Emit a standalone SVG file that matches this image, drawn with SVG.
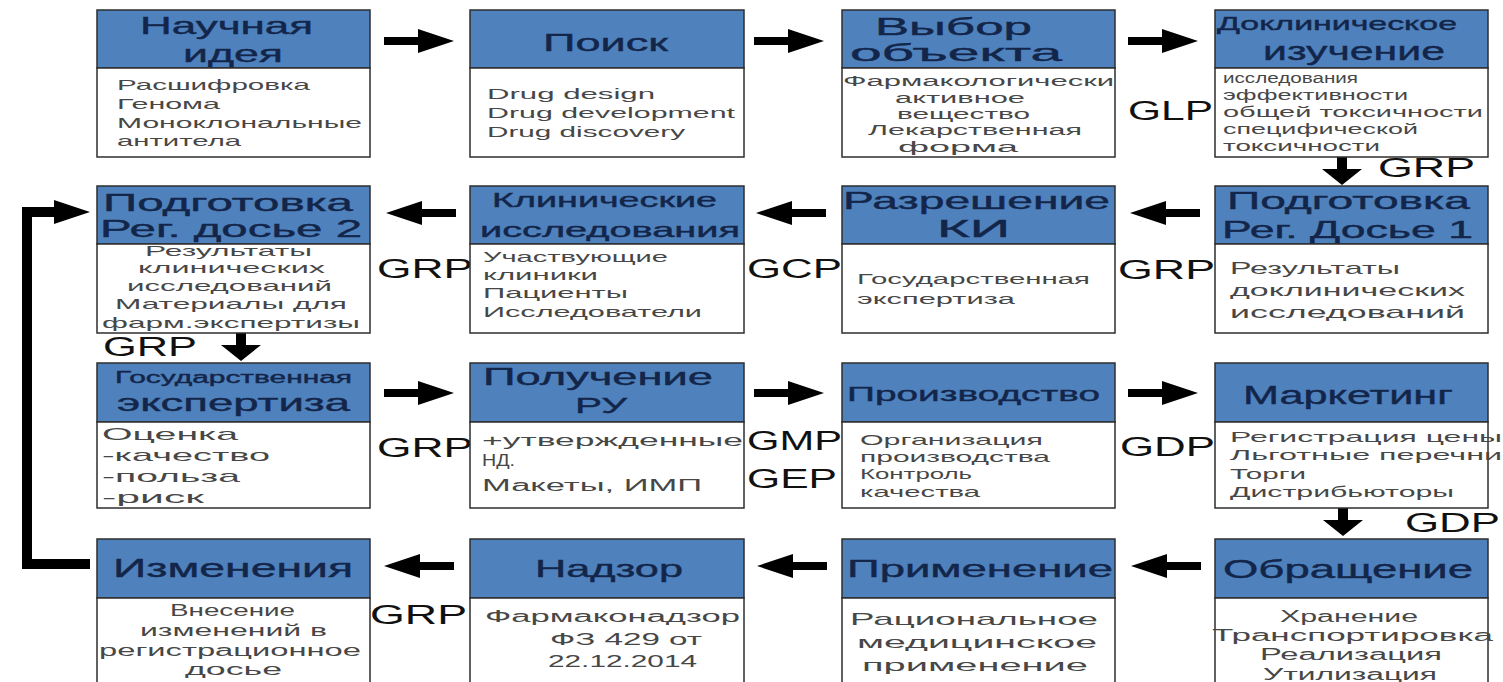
<svg xmlns="http://www.w3.org/2000/svg" xmlns:xlink="http://www.w3.org/1999/xlink" width="1503" height="682" viewBox="0 0 1503 682">
<style>
.hdr{fill:#4f81bd;stroke:#2e2e2e;stroke-width:1.5}
.bdy{fill:#ffffff;stroke:#2e2e2e;stroke-width:1.5}
.ht{font-family:"Liberation Sans",Arial,sans-serif;fill:#13264a;stroke:#13264a;stroke-width:0.4}
.bt{font-family:"Liberation Sans",Arial,sans-serif;fill:#474747}
.lb{font-family:"Liberation Sans",Arial,sans-serif;font-size:27px;fill:#111111}
.ar{fill:#000000}
</style>
<defs>
<path id="arR" d="M0,-4 H34 V-12 L70,0 L34,12 V4 H0 Z"/>
<path id="arL" d="M70,-4 H36 V-12 L0,0 L36,12 V4 H70 Z"/>
<path id="arD" d="M-5,0 V12 H-20 L0,28 L20,12 H5 V0 Z"/>
</defs>
<rect width="1503" height="682" fill="#ffffff"/>

<g id="connectors" class="ar">
<use xlink:href="#arR" x="384" y="41"/>
<use xlink:href="#arR" x="754" y="41"/>
<use xlink:href="#arR" x="1128" y="41"/>
<use xlink:href="#arD" x="1342" y="157"/>
<use xlink:href="#arL" x="386" y="213"/>
<use xlink:href="#arL" x="756" y="213"/>
<use xlink:href="#arL" x="1130" y="213"/>
<use xlink:href="#arD" x="241" y="333"/>
<use xlink:href="#arR" x="384" y="393"/>
<use xlink:href="#arR" x="754" y="393"/>
<use xlink:href="#arR" x="1128" y="393"/>
<use xlink:href="#arD" x="1343" y="508"/>
<use xlink:href="#arL" x="384" y="566"/>
<use xlink:href="#arL" x="757" y="566"/>
<use xlink:href="#arL" x="1131" y="566"/>
<path d="M90,564 H27 V212 H58" fill="none" stroke="#000" stroke-width="10"/>
<path d="M54,200 L90,212 L54,224 Z"/>
<text class="lb" x="1128" y="120" textLength="85" lengthAdjust="spacingAndGlyphs">GLP</text>
<text class="lb" x="1378" y="177" textLength="97" lengthAdjust="spacingAndGlyphs">GRP</text>
<text class="lb" x="377" y="278" textLength="96" lengthAdjust="spacingAndGlyphs">GRP</text>
<text class="lb" x="747" y="278" textLength="95" lengthAdjust="spacingAndGlyphs">GCP</text>
<text class="lb" x="1118" y="279" textLength="97" lengthAdjust="spacingAndGlyphs">GRP</text>
<text class="lb" x="103" y="356" textLength="94" lengthAdjust="spacingAndGlyphs">GRP</text>
<text class="lb" x="377" y="457" textLength="96" lengthAdjust="spacingAndGlyphs">GRP</text>
<text class="lb" x="747" y="450" textLength="95" lengthAdjust="spacingAndGlyphs">GMP</text>
<text class="lb" x="747" y="488" textLength="90" lengthAdjust="spacingAndGlyphs">GEP</text>
<text class="lb" x="1120" y="456" textLength="95" lengthAdjust="spacingAndGlyphs">GDP</text>
<text class="lb" x="1405" y="532" textLength="95" lengthAdjust="spacingAndGlyphs">GDP</text>
<text class="lb" x="370" y="624" textLength="97" lengthAdjust="spacingAndGlyphs">GRP</text>
</g>

<g id="n1">
<rect class="hdr" x="97" y="10" width="273" height="58"/>
<rect class="bdy" x="97" y="68" width="273" height="89"/>
<text class="ht" font-size="24" x="140" y="34" textLength="173" lengthAdjust="spacingAndGlyphs">Научная</text>
<text class="ht" font-size="24" x="183" y="62" textLength="100" lengthAdjust="spacingAndGlyphs">идея</text>
<text class="bt" font-size="15" x="117" y="90" textLength="193" lengthAdjust="spacingAndGlyphs">Расшифровка</text>
<text class="bt" font-size="15" x="117" y="109" textLength="103" lengthAdjust="spacingAndGlyphs">Генома</text>
<text class="bt" font-size="15" x="117" y="128" textLength="245" lengthAdjust="spacingAndGlyphs">Моноклональные</text>
<text class="bt" font-size="15" x="117" y="146" textLength="124" lengthAdjust="spacingAndGlyphs">антитела</text>
</g>

<g id="n2">
<rect class="hdr" x="470" y="10" width="274" height="58"/>
<rect class="bdy" x="470" y="68" width="274" height="89"/>
<text class="ht" font-size="24" x="543" y="51" textLength="125" lengthAdjust="spacingAndGlyphs">Поиск</text>
<text class="bt" font-size="15" x="487" y="99" textLength="168" lengthAdjust="spacingAndGlyphs">Drug design</text>
<text class="bt" font-size="15" x="487" y="118" textLength="248" lengthAdjust="spacingAndGlyphs">Drug development</text>
<text class="bt" font-size="15" x="487" y="137" textLength="198" lengthAdjust="spacingAndGlyphs">Drug discovery</text>
</g>

<g id="n3">
<rect class="hdr" x="842" y="10" width="273" height="58"/>
<rect class="bdy" x="842" y="68" width="273" height="89"/>
<text class="ht" font-size="24" x="875" y="35" textLength="157" lengthAdjust="spacingAndGlyphs">Выбор</text>
<text class="ht" font-size="24" x="850" y="61" textLength="212" lengthAdjust="spacingAndGlyphs">объекта</text>
<text class="bt" font-size="14" x="843" y="86" textLength="271" lengthAdjust="spacingAndGlyphs">Фармакологически</text>
<text class="bt" font-size="14" x="895" y="103" textLength="130" lengthAdjust="spacingAndGlyphs">активное</text>
<text class="bt" font-size="14" x="897" y="119" textLength="133" lengthAdjust="spacingAndGlyphs">вещество</text>
<text class="bt" font-size="14" x="868" y="135" textLength="214" lengthAdjust="spacingAndGlyphs">Лекарственная</text>
<text class="bt" font-size="14" x="898" y="152" textLength="120" lengthAdjust="spacingAndGlyphs">форма</text>
</g>

<g id="n4">
<rect class="hdr" x="1215" y="10" width="273" height="58"/>
<rect class="bdy" x="1215" y="68" width="273" height="89"/>
<text class="ht" font-size="19" x="1217" y="30" textLength="240" lengthAdjust="spacingAndGlyphs">Доклиническое</text>
<text class="ht" font-size="26" x="1263" y="60" textLength="182" lengthAdjust="spacingAndGlyphs">изучение</text>
<text class="bt" font-size="14" x="1223" y="83" textLength="135" lengthAdjust="spacingAndGlyphs">исследования</text>
<text class="bt" font-size="14" x="1223" y="100" textLength="185" lengthAdjust="spacingAndGlyphs">эффективности</text>
<text class="bt" font-size="14" x="1223" y="117" textLength="260" lengthAdjust="spacingAndGlyphs">общей токсичности</text>
<text class="bt" font-size="14" x="1223" y="134" textLength="195" lengthAdjust="spacingAndGlyphs">специфической</text>
<text class="bt" font-size="14" x="1223" y="151" textLength="157" lengthAdjust="spacingAndGlyphs">токсичности</text>
</g>

<g id="n5">
<rect class="hdr" x="97" y="186" width="273" height="58"/>
<rect class="bdy" x="97" y="244" width="273" height="89"/>
<text class="ht" font-size="24" x="103" y="211" textLength="250" lengthAdjust="spacingAndGlyphs">Подготовка</text>
<text class="ht" font-size="24" x="100" y="237" textLength="262" lengthAdjust="spacingAndGlyphs">Рег. досье 2</text>
<text class="bt" font-size="15" x="145" y="256" textLength="167" lengthAdjust="spacingAndGlyphs">Результаты</text>
<text class="bt" font-size="15" x="138" y="273" textLength="187" lengthAdjust="spacingAndGlyphs">клинических</text>
<text class="bt" font-size="15" x="127" y="291" textLength="205" lengthAdjust="spacingAndGlyphs">исследований</text>
<text class="bt" font-size="15" x="115" y="309" textLength="232" lengthAdjust="spacingAndGlyphs">Материалы для</text>
<text class="bt" font-size="15" x="102" y="328" textLength="258" lengthAdjust="spacingAndGlyphs">фарм.экспертизы</text>
</g>

<g id="n6">
<rect class="hdr" x="470" y="186" width="274" height="58"/>
<rect class="bdy" x="470" y="244" width="274" height="89"/>
<text class="ht" font-size="21" x="492" y="207" textLength="225" lengthAdjust="spacingAndGlyphs">Клинические</text>
<text class="ht" font-size="21" x="480" y="237" textLength="260" lengthAdjust="spacingAndGlyphs">исследования</text>
<text class="bt" font-size="15" x="483" y="262" textLength="185" lengthAdjust="spacingAndGlyphs">Участвующие</text>
<text class="bt" font-size="15" x="483" y="280" textLength="115" lengthAdjust="spacingAndGlyphs">клиники</text>
<text class="bt" font-size="15" x="483" y="298" textLength="145" lengthAdjust="spacingAndGlyphs">Пациенты</text>
<text class="bt" font-size="15" x="483" y="317" textLength="219" lengthAdjust="spacingAndGlyphs">Исследователи</text>
</g>

<g id="n7">
<rect class="hdr" x="842" y="186" width="273" height="58"/>
<rect class="bdy" x="842" y="244" width="273" height="89"/>
<text class="ht" font-size="24" x="843" y="209" textLength="267" lengthAdjust="spacingAndGlyphs">Разрешение</text>
<text class="ht" font-size="24" x="937" y="237" textLength="73" lengthAdjust="spacingAndGlyphs">КИ</text>
<text class="bt" font-size="14" x="857" y="284" textLength="233" lengthAdjust="spacingAndGlyphs">Государственная</text>
<text class="bt" font-size="14" x="857" y="304" textLength="158" lengthAdjust="spacingAndGlyphs">экспертиза</text>
</g>

<g id="n8">
<rect class="hdr" x="1215" y="186" width="273" height="58"/>
<rect class="bdy" x="1215" y="244" width="273" height="89"/>
<text class="ht" font-size="24" x="1227" y="209" textLength="243" lengthAdjust="spacingAndGlyphs">Подготовка</text>
<text class="ht" font-size="24" x="1222" y="238" textLength="251" lengthAdjust="spacingAndGlyphs">Рег. Досье 1</text>
<text class="bt" font-size="17" x="1230" y="274" textLength="170" lengthAdjust="spacingAndGlyphs">Результаты</text>
<text class="bt" font-size="17" x="1230" y="296" textLength="235" lengthAdjust="spacingAndGlyphs">доклинических</text>
<text class="bt" font-size="17" x="1230" y="318" textLength="235" lengthAdjust="spacingAndGlyphs">исследований</text>
</g>

<g id="n9">
<rect class="hdr" x="97" y="363" width="273" height="59"/>
<rect class="bdy" x="97" y="422" width="273" height="86"/>
<text class="ht" font-size="16" x="115" y="383" textLength="237" lengthAdjust="spacingAndGlyphs">Государственная</text>
<text class="ht" font-size="24" x="117" y="411" textLength="233" lengthAdjust="spacingAndGlyphs">экспертиза</text>
<text class="bt" font-size="17" x="102" y="440" textLength="136" lengthAdjust="spacingAndGlyphs">Оценка</text>
<text class="bt" font-size="17" x="102" y="461" textLength="168" lengthAdjust="spacingAndGlyphs">-качество</text>
<text class="bt" font-size="17" x="102" y="482" textLength="138" lengthAdjust="spacingAndGlyphs">-польза</text>
<text class="bt" font-size="17" x="102" y="503" textLength="102" lengthAdjust="spacingAndGlyphs">-риск</text>
</g>

<g id="n10">
<rect class="hdr" x="470" y="363" width="274" height="59"/>
<rect class="bdy" x="470" y="422" width="274" height="86"/>
<text class="ht" font-size="23" x="483" y="385" textLength="230" lengthAdjust="spacingAndGlyphs">Получение</text>
<text class="ht" font-size="22" x="575" y="413" textLength="52" lengthAdjust="spacingAndGlyphs">РУ</text>
<text class="bt" font-size="16" x="482" y="446" textLength="261" lengthAdjust="spacingAndGlyphs">+утвержденные</text>
<text class="bt" font-size="16" x="482" y="466" textLength="33" lengthAdjust="spacingAndGlyphs">НД.</text>
<text class="bt" font-size="16" x="482" y="491" textLength="220" lengthAdjust="spacingAndGlyphs">Макеты, ИМП</text>
</g>

<g id="n11">
<rect class="hdr" x="842" y="363" width="273" height="59"/>
<rect class="bdy" x="842" y="422" width="273" height="86"/>
<text class="ht" font-size="21" x="847" y="401" textLength="253" lengthAdjust="spacingAndGlyphs">Производство</text>
<text class="bt" font-size="15" x="860" y="445" textLength="183" lengthAdjust="spacingAndGlyphs">Организация</text>
<text class="bt" font-size="15" x="860" y="462" textLength="190" lengthAdjust="spacingAndGlyphs">производства</text>
<text class="bt" font-size="15" x="860" y="479" textLength="112" lengthAdjust="spacingAndGlyphs">Контроль</text>
<text class="bt" font-size="15" x="860" y="497" textLength="120" lengthAdjust="spacingAndGlyphs">качества</text>
</g>

<g id="n12">
<rect class="hdr" x="1215" y="363" width="273" height="59"/>
<rect class="bdy" x="1215" y="422" width="273" height="86"/>
<text class="ht" font-size="26" x="1243" y="404" textLength="210" lengthAdjust="spacingAndGlyphs">Маркетинг</text>
<text class="bt" font-size="15" x="1230" y="442" textLength="272" lengthAdjust="spacingAndGlyphs">Регистрация цены</text>
<text class="bt" font-size="15" x="1230" y="460" textLength="272" lengthAdjust="spacingAndGlyphs">Льготные перечни</text>
<text class="bt" font-size="15" x="1230" y="479" textLength="76" lengthAdjust="spacingAndGlyphs">Торги</text>
<text class="bt" font-size="15" x="1230" y="497" textLength="224" lengthAdjust="spacingAndGlyphs">Дистрибьюторы</text>
</g>

<g id="n13">
<rect class="hdr" x="97" y="539" width="273" height="59"/>
<rect class="bdy" x="97" y="598" width="273" height="95"/>
<text class="ht" font-size="26" x="113" y="577" textLength="240" lengthAdjust="spacingAndGlyphs">Изменения</text>
<text class="bt" font-size="16" x="170" y="616" textLength="125" lengthAdjust="spacingAndGlyphs">Внесение</text>
<text class="bt" font-size="16" x="140" y="636" textLength="187" lengthAdjust="spacingAndGlyphs">изменений в</text>
<text class="bt" font-size="16" x="99" y="656" textLength="262" lengthAdjust="spacingAndGlyphs">регистрационное</text>
<text class="bt" font-size="16" x="185" y="675" textLength="97" lengthAdjust="spacingAndGlyphs">досье</text>
</g>

<g id="n14">
<rect class="hdr" x="470" y="539" width="274" height="59"/>
<rect class="bdy" x="470" y="598" width="274" height="95"/>
<text class="ht" font-size="24" x="535" y="577" textLength="148" lengthAdjust="spacingAndGlyphs">Надзор</text>
<text class="bt" font-size="16" x="485" y="622" textLength="255" lengthAdjust="spacingAndGlyphs">Фармаконадзор</text>
<text class="bt" font-size="16" x="550" y="645" textLength="152" lengthAdjust="spacingAndGlyphs">ФЗ 429 от</text>
<text class="bt" font-size="16" x="548" y="667" textLength="149" lengthAdjust="spacingAndGlyphs">22.12.2014</text>
</g>

<g id="n15">
<rect class="hdr" x="842" y="539" width="273" height="59"/>
<rect class="bdy" x="842" y="598" width="273" height="95"/>
<text class="ht" font-size="24" x="847" y="577" textLength="266" lengthAdjust="spacingAndGlyphs">Применение</text>
<text class="bt" font-size="17" x="850" y="625" textLength="248" lengthAdjust="spacingAndGlyphs">Рациональное</text>
<text class="bt" font-size="17" x="857" y="648" textLength="240" lengthAdjust="spacingAndGlyphs">медицинское</text>
<text class="bt" font-size="17" x="862" y="671" textLength="226" lengthAdjust="spacingAndGlyphs">применение</text>
</g>

<g id="n16">
<rect class="hdr" x="1215" y="539" width="273" height="59"/>
<rect class="bdy" x="1215" y="598" width="273" height="95"/>
<text class="ht" font-size="26" x="1223" y="578" textLength="250" lengthAdjust="spacingAndGlyphs">Обращение</text>
<text class="bt" font-size="16" x="1280" y="622" textLength="138" lengthAdjust="spacingAndGlyphs">Хранение</text>
<text class="bt" font-size="16" x="1212" y="641" textLength="281" lengthAdjust="spacingAndGlyphs">Транспортировка</text>
<text class="bt" font-size="16" x="1260" y="660" textLength="182" lengthAdjust="spacingAndGlyphs">Реализация</text>
<text class="bt" font-size="16" x="1263" y="680" textLength="174" lengthAdjust="spacingAndGlyphs">Утилизация</text>
</g>
</svg>
